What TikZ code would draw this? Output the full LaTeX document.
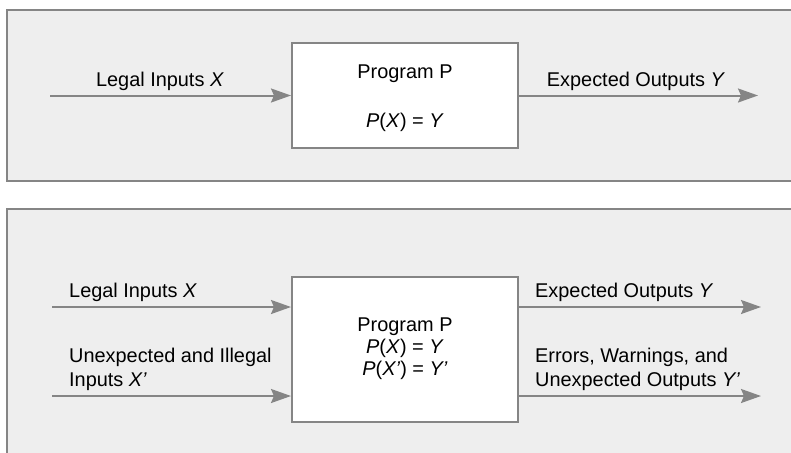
\documentclass[tikz,border=0pt]{standalone}
\usepackage{fontspec}
\setmainfont{Liberation Sans}
\usetikzlibrary{arrows.meta}
\definecolor{edgegray}{HTML}{858585}
\definecolor{panelgray}{HTML}{EEEEEE}
\tikzset{
  panel/.style={draw=edgegray, fill=panelgray, line width=2pt},
  progbox/.style={draw=edgegray, fill=white, line width=2pt, rectangle, inner sep=0pt},
  flow/.style={draw=edgegray, line width=2pt, -{Stealth[length=20pt, width=14pt, inset=3pt]}},
  lbl/.style={inner sep=0pt, font=\fontsize{19.9}{24}\selectfont},
}
\newcommand{\pr}{\symbol{"27}}
\begin{document}
\begin{tikzpicture}[x=1pt, y=-1pt]
\clip (0,0) rectangle (791,452);
\useasboundingbox (0,0) rectangle (791,452);
\fill[white] (0,0) rectangle (791,452);

% ---------- top panel ----------
\draw[panel] (7,10) rectangle (810,181);
\node[progbox, minimum width=226pt, minimum height=104pt] (box1) at (405,95.5) {};
\node[lbl, anchor=base] (t1a) at (405,78) {Program P};
\node[lbl, anchor=base] (t1b) at (405,127) {\textit{P}(\textit{X}) = \textit{Y}};
\coordinate (in1) at (50,95.5);
\coordinate (out1) at (758,95.5);
\draw[flow] (in1) -- (box1.west);
\draw[flow] (box1.east) -- (out1);
\node[lbl, anchor=base] (l1) at (160,86) {Legal Inputs \textit{X}};
\node[lbl, anchor=base] (r1) at (636,86) {Expected Outputs \textit{Y}};

% ---------- bottom panel ----------
\draw[panel] (7,209) rectangle (810,470);
\node[progbox, minimum width=226pt, minimum height=145pt] (box2) at (405,349.5) {};
\node[lbl, anchor=base] (t2a) at (405,331) {Program P};
\node[lbl, anchor=base] (t2b) at (405,353) {\textit{P}(\textit{X}) = \textit{Y}};
\node[lbl, anchor=base] (t2c) at (405,375) {\textit{P}(\textit{X\pr}) = \textit{Y\pr}};
\coordinate (in2a) at (52,307);
\coordinate (in2b) at (52,396);
\coordinate (out2a) at (761,307);
\coordinate (out2b) at (761,396);
\draw[flow] (in2a) -- (in2a -| box2.west);
\draw[flow] (in2b) -- (in2b -| box2.west);
\draw[flow] (out2a -| box2.east) -- (out2a);
\draw[flow] (out2b -| box2.east) -- (out2b);
\node[lbl, anchor=base west] (l2a) at (69,297) {Legal Inputs \textit{X}};
\node[lbl, anchor=base west] (l2b) at (69,362) {Unexpected and Illegal};
\node[lbl, anchor=base west] (l2c) at (69,386) {Inputs \textit{X\pr}};
\node[lbl, anchor=base west] (r2a) at (535,297) {Expected Outputs \textit{Y}};
\node[lbl, anchor=base west] (r2b) at (535,362) {Errors, Warnings, and};
\node[lbl, anchor=base west] (r2c) at (535,386) {Unexpected Outputs \textit{Y\pr}};
\end{tikzpicture}
\end{document}
